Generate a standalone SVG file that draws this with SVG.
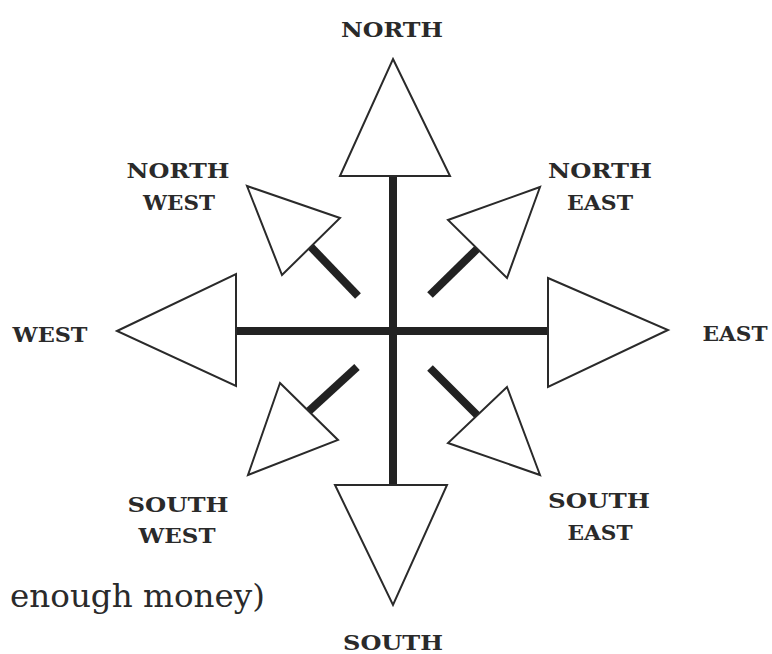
<svg xmlns="http://www.w3.org/2000/svg" width="772" height="654" viewBox="0 0 772 654">
<style>
.tri{fill:#fff;stroke:#2a2a2a;stroke-width:2;stroke-linejoin:miter}
.bar{stroke:#222;stroke-width:8;stroke-linecap:butt;fill:none}
.lbl{font-family:"DejaVu Serif","Liberation Serif",serif;font-weight:bold;font-size:21px;fill:#2a2a2a;text-anchor:middle}
.note{font-family:"DejaVu Serif","Liberation Serif",serif;font-size:31px;fill:#2a2a2a}
</style>
<rect width="772" height="654" fill="#fff"/>
<g id="connectors">
<line class="bar" x1="393" y1="176" x2="393" y2="485"/>
<line class="bar" x1="236" y1="331" x2="548" y2="331"/>
<line class="bar" x1="311" y1="247" x2="358" y2="296"/>
<line class="bar" x1="477" y1="249" x2="430" y2="295"/>
<line class="bar" x1="309" y1="411" x2="357" y2="367"/>
<line class="bar" x1="477" y1="415" x2="430" y2="368"/>
</g>
<g id="north">
<polygon class="tri" points="393,59 450,176 340,176"/>
<text class="lbl" x="392" y="37" textLength="102" lengthAdjust="spacingAndGlyphs">NORTH</text>
</g>
<g id="south">
<polygon class="tri" points="335,485 447,485 393,605"/>
<text class="lbl" x="393" y="650" textLength="100" lengthAdjust="spacingAndGlyphs">SOUTH</text>
</g>
<g id="west">
<polygon class="tri" points="117,331 236,274 236,386"/>
<text class="lbl" x="50" y="342" textLength="75" lengthAdjust="spacingAndGlyphs">WEST</text>
</g>
<g id="east">
<polygon class="tri" points="548,278 668,330 548,387"/>
<text class="lbl" x="735" y="341" textLength="65" lengthAdjust="spacingAndGlyphs">EAST</text>
</g>
<g id="northwest">
<polygon class="tri" points="247,186 340,218 282,275"/>
<text class="lbl" x="178" y="178" textLength="103" lengthAdjust="spacingAndGlyphs">NORTH</text>
<text class="lbl" x="179" y="210" textLength="72" lengthAdjust="spacingAndGlyphs">WEST</text>
</g>
<g id="northeast">
<polygon class="tri" points="540,187 448,220 507,278"/>
<text class="lbl" x="600" y="178" textLength="104" lengthAdjust="spacingAndGlyphs">NORTH</text>
<text class="lbl" x="600" y="210" textLength="66" lengthAdjust="spacingAndGlyphs">EAST</text>
</g>
<g id="southwest">
<polygon class="tri" points="280,383 338,440 248,475"/>
<text class="lbl" x="178" y="512" textLength="101" lengthAdjust="spacingAndGlyphs">SOUTH</text>
<text class="lbl" x="177" y="543" textLength="77" lengthAdjust="spacingAndGlyphs">WEST</text>
</g>
<g id="southeast">
<polygon class="tri" points="507,387 540,475 448,443"/>
<text class="lbl" x="599" y="508" textLength="102" lengthAdjust="spacingAndGlyphs">SOUTH</text>
<text class="lbl" x="600" y="540" textLength="65" lengthAdjust="spacingAndGlyphs">EAST</text>
</g>
<text class="note" x="10" y="607" textLength="255" lengthAdjust="spacingAndGlyphs">enough money)</text>
</svg>
